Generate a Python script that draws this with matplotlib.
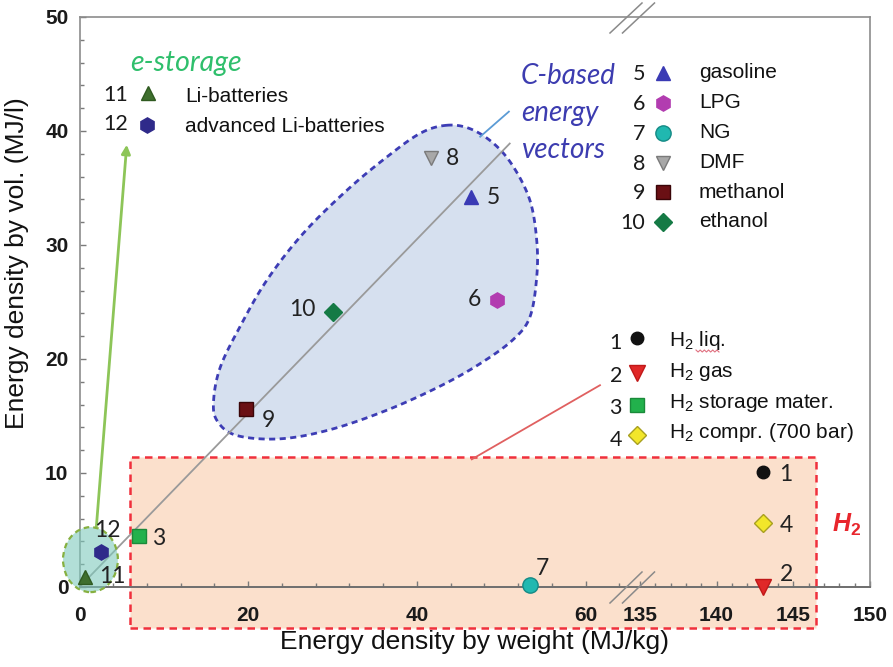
import numpy as np
import matplotlib
matplotlib.use("Agg")
import matplotlib.pyplot as plt
from matplotlib.patches import Rectangle, Ellipse, Polygon
from matplotlib.lines import Line2D

# ---------------- data ----------------
ids = [1, 2, 3, 4, 5, 6, 7, 8, 9, 10, 11, 12]
names = ["H$_2$ liq.", "H$_2$ gas", "H$_2$ storage mater.", "H$_2$ compr. (700 bar)",
         "gasoline", "LPG", "NG", "DMF", "methanol", "ethanol",
         "Li-batteries", "advanced Li-batteries"]
weight_mj_kg = [143.0, 143.0, 7.1, 143.0, 46.4, 49.5, 53.4, 41.7, 19.7, 30.0, 0.6, 2.5]
volume_mj_l = [10.1, 0.0, 4.5, 5.6, 34.2, 25.2, 0.2, 37.6, 15.6, 24.1, 0.9, 3.1]

x_major = [0, 20, 40, 60, 135, 140, 145, 150]
y_major = [0, 10, 20, 30, 40, 50]

# ---------------- styles ----------------
marker_style = {
    1: dict(marker="o", ms=9, mfc="#111111", mec="#111111"),
    2: dict(marker="v", ms=11, mfc="#e02828", mec="#c01818"),
    3: dict(marker="s", ms=10, mfc="#22b14c", mec="#1a8a3a"),
    4: dict(marker="D", ms=9, mfc="#f2e62a", mec="#a8a020"),
    5: dict(marker="^", ms=10, mfc="#3a3ab4", mec="#3a3ab4"),
    6: dict(marker="h", ms=11, mfc="#b23cb0", mec="#b23cb0"),
    7: dict(marker="o", ms=11, mfc="#20b8b0", mec="#158a85"),
    8: dict(marker="v", ms=10, mfc="#a8a8a8", mec="#7a7a7a"),
    9: dict(marker="s", ms=10, mfc="#6a1014", mec="#3a0508"),
    10: dict(marker="D", ms=9, mfc="#157a45", mec="#157a45"),
    11: dict(marker="^", ms=10, mfc="#3f6f2e", mec="#2f5a20"),
    12: dict(marker="h", ms=11, mfc="#2f2a8a", mec="#2f2a8a"),
}
# number label offsets (points) relative to each marker
label_offset = {
    1: (17, -2), 2: (17, 9), 3: (14, -2), 4: (17, -2), 5: (16, 0), 6: (-16, 0),
    7: (9, 12), 8: (15, 0), 9: (16, -8), 10: (-22, 2), 11: (20, 0), 12: (5, 15),
}

plt.rcParams["font.family"] = ["Liberation Sans", "DejaVu Sans"]
plt.rcParams["mathtext.fontset"] = "custom"
plt.rcParams["mathtext.rm"] = "Liberation Sans"
plt.rcParams["mathtext.it"] = "Liberation Sans:italic"
plt.rcParams["mathtext.bf"] = "Liberation Sans:bold"

W, H = 893, 667
fig = plt.figure(figsize=(W / 100, H / 100), dpi=100)
ax = fig.add_axes([79.5 / W, 1 - 587 / H, (870 - 79.5) / W, (587 - 17) / H])


def fx(px):
    return px / W


def fy(py):
    return 1 - py / H


# ---- broken x axis: 0..65 linear, compressed gap, 135..150 stretched ----
BRK_LO, BRK_HI = 65.6, 135.0
POS_HI = 66.43
K_HI = 1.8185


def fwd(x):
    x = np.asarray(x, dtype=float)
    mid = BRK_LO + (x - BRK_LO) * (POS_HI - BRK_LO) / (BRK_HI - BRK_LO)
    hi = POS_HI + (x - BRK_HI) * K_HI
    return np.where(x <= BRK_LO, x, np.where(x >= BRK_HI, hi, mid))


def inv(u):
    u = np.asarray(u, dtype=float)
    mid = BRK_LO + (u - BRK_LO) * (BRK_HI - BRK_LO) / (POS_HI - BRK_LO)
    hi = BRK_HI + (u - POS_HI) / K_HI
    return np.where(u <= BRK_LO, u, np.where(u >= POS_HI, hi, mid))


ax.set_xscale("function", functions=(fwd, inv))
ax.set_xlim(0, 150)
ax.set_ylim(0, 50)

ax.set_xticks(x_major)
ax.set_xticks([v for v in range(4, 65, 4) if v % 20] +
              [v for v in range(136, 150) if v % 5], minor=True)
ax.set_yticks(y_major)
ax.set_yticks([v for v in range(2, 50, 2) if v % 10], minor=True)
ax.set_xticklabels([str(v) for v in x_major], fontsize=15, fontweight="bold")
ax.set_yticklabels([str(v) for v in y_major], fontsize=15, fontweight="bold")
ax.tick_params(axis="both", which="both", direction="in", colors="#7a7a7a",
               labelcolor="#1a1a1a")
ax.tick_params(axis="both", which="major", length=4.5, width=1.0)
ax.tick_params(axis="both", which="minor", length=3, width=1.0)
ax.tick_params(axis="x", pad=14)
ax.tick_params(axis="y", pad=8)
for side in ["left", "top", "right"]:
    ax.spines[side].set_color("#8c8c8c")
    ax.spines[side].set_linewidth(1.2)
ax.spines["bottom"].set_color("#6e6e6e")
ax.spines["bottom"].set_linewidth(1.4)

# ---- H2 region ----
ax.add_patch(Rectangle((6.0, -3.6), 146.5 - 6.0, 11.4 + 3.6, facecolor="#fbe0cc",
                       edgecolor="#f0303c", lw=1.8, ls=(0, (3, 2.2)), zorder=0.6,
                       clip_on=False))


# ---- C-based blob ----
def closed_spline(pts, n=24):
    P = np.asarray(pts, dtype=float)
    N = len(P)
    t = np.linspace(0, 1, n, endpoint=False)[:, None]
    segs = []
    for i in range(N):
        p0, p1, p2, p3 = P[i - 1], P[i], P[(i + 1) % N], P[(i + 2) % N]
        segs.append(0.5 * (2 * p1 + (-p0 + p2) * t + (2 * p0 - 5 * p1 + 4 * p2 - p3) * t ** 2
                           + (-p0 + 3 * p1 - 3 * p2 + p3) * t ** 3))
    return np.vstack(segs)


blob = [(43.5, 40.5), (46.3, 40.2), (49.1, 38.9), (51.4, 36.9), (53.4, 33.9), (54.2, 30.4),
        (54.2, 27.2), (53.4, 23.7), (51.4, 21.7), (47.5, 19.6), (42.7, 17.6), (36.4, 15.5),
        (29.7, 13.8), (23.8, 13.0), (18.6, 13.3), (16.3, 14.6), (15.9, 16.4), (16.7, 19.3),
        (19.0, 22.8), (22.2, 26.9), (26.5, 31.0), (31.7, 34.8), (36.4, 37.7), (40.4, 39.8)]
ax.add_patch(Polygon(closed_spline(blob), closed=True, facecolor="#d6e0ef",
                     edgecolor="#3d3db5", lw=2.0, ls=(0, (2.2, 1.6)), zorder=1))

# trend line through the carbon-based fuels
ax.plot([0, 51], [0, 38.9], color="#9a9a9a", lw=1.3, zorder=1.5)
# leader lines
ax.plot([47.5, 50.9], [39.5, 41.7], color="#5b9bd5", lw=1.3, zorder=1.5)
ax.plot([46.5, 61.7], [11.2, 17.7], color="#e06060", lw=1.3, zorder=1.5, clip_on=False)
ax.annotate("", xy=(5.6, 38.8), xytext=(2.0, 5.3),
            arrowprops=dict(arrowstyle="-|>", color="#8dc558", lw=2.0, mutation_scale=13,
                            shrinkA=0, shrinkB=0), zorder=1.6)

# ---- e-storage ellipse ----
ax.add_patch(Ellipse((1.3, 2.4), 6.5, 5.7, facecolor="#7fcbbd", alpha=0.6,
                     edgecolor="none", zorder=3, clip_on=False))
ax.add_patch(Ellipse((1.3, 2.4), 6.5, 5.7, facecolor="none", edgecolor="#86b040",
                     lw=1.6, ls=(0, (2.5, 1.8)), zorder=3.1, clip_on=False))

# ---- points and number labels ----
for i, xv, yv in zip(ids, weight_mj_kg, volume_mj_l):
    ax.plot([xv], [yv], ls="none", zorder=4, clip_on=False, **marker_style[i])
    ax.annotate(str(i), (xv, yv), xytext=label_offset[i], textcoords="offset points",
                ha="center", va="center", fontsize=16.5, family=["Lato", "DejaVu Sans"],
                color="#222222", zorder=5)

# ---- axis break marks ----
for dx in (0, 12.5):
    for y0, y1 in ((603, 572), (33, 3)):
        fig.add_artist(Line2D([fx(610 + dx), fx(642 + dx)], [fy(y0), fy(y1)],
                              color="#8a8a8a", lw=1.1))

# ---- legends ----
def legend_row(num, marker_id, text, x_num, x_mk, x_txt, y_num, y_mk, y_txt):
    fig.text(fx(x_num), fy(y_num), str(num), ha="right", va="center", fontsize=15.5,
             family=["Lato", "DejaVu Sans"], color="#1a1a1a")
    st = dict(marker_style[marker_id])
    fig.add_artist(Line2D([fx(x_mk)], [fy(y_mk)], ls="none", transform=fig.transFigure, **st))
    fig.text(fx(x_txt), fy(y_txt), text, ha="left", va="center", fontsize=15,
             color="#111111")


legend_row(11, 11, names[10], 128, 148, 185, 95, 93, 96)
legend_row(12, 12, names[11], 128, 147, 185, 124, 125, 126)

rows_c = [(5, 73), (6, 103), (7, 133), (8, 163), (9, 192), (10, 222)]
for num, yy in rows_c:
    legend_row(num, num, names[num - 1], 645, 663, 699, yy + 1, yy, yy)

rows_h = [(1, 343, 338, 340), (2, 376, 373, 372), (3, 408, 405, 403), (4, 440, 435, 433)]
for num, yn, ym, yt in rows_h:
    legend_row(num, num, names[num - 1], 622, 637, 669, yn, ym, yt)

# spell-check squiggle under "liq."
sq_x = np.linspace(696, 719, 12)
sq_y = 351 + 1.0 * np.where(np.arange(12) % 2 == 0, -1, 1)
fig.add_artist(Line2D(fx(sq_x), fy(sq_y), color="#e07080", lw=0.8))

# ---- group titles ----
fig.text(fx(130), fy(63), "e-storage", ha="left", va="center", fontsize=20.5,
         style="italic", family=["Lato", "DejaVu Sans"], color="#2fbf6c")
for k, word in enumerate(["C-based", "energy", "vectors"]):
    fig.text(fx(521), fy(76 + 37 * k), word, ha="left", va="center", fontsize=20,
             style="italic", family=["Lato", "DejaVu Sans"], color="#3c3cb0")
fig.text(fx(847), fy(525), "H$_\\mathbf{2}$", ha="center", va="center", fontsize=18,
         fontweight="bold", style="italic", color="#e8262d")

# ---- axis titles ----
fig.text(fx(475), fy(642), "Energy density by weight (MJ/kg)", ha="center", va="center",
         fontsize=19, color="#111111")
fig.text(fx(17), fy(263), "Energy density by vol. (MJ/l)", ha="center", va="center",
         rotation=90, fontsize=19, color="#111111")

fig.savefig("out.png", dpi=100)
